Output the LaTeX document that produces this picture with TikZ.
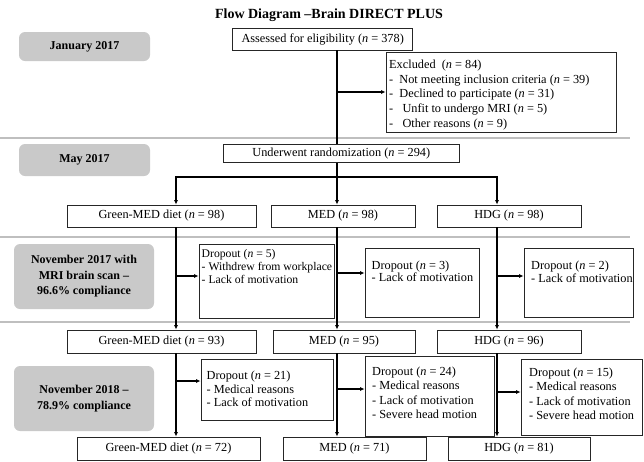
\documentclass[tikz,border=0pt]{standalone}
\usepackage{fontspec}
\setmainfont{Liberation Serif}
\usetikzlibrary{arrows.meta}
\begin{document}
\begin{tikzpicture}[x=1pt,y=-1pt,
  sep/.style={draw=gray!50, line width=2pt},
  gbox/.style={fill=gray!42, rounded corners=6pt, align=center, inner sep=0pt, font=\fontsize{12}{15.5}\selectfont\bfseries},
  wbox/.style={draw=black!85, line width=0.8pt, fill=white, inner sep=0pt, font=\fontsize{12.3}{14}\selectfont},
  dtext/.style={anchor=north west, inner sep=0pt, align=left},
  conn/.style={line width=1.3pt},
  arr/.style={conn, -{Latex[length=4.5pt,width=4pt]}},
]
\useasboundingbox (0,0) rectangle (644,461);

% separators
\draw[sep] (0,138) -- (630,138);
\draw[sep] (0,237) -- (630,237);
\draw[sep] (0,321.5) -- (630,321.5);

% title
\node[font=\fontsize{14}{16}\selectfont\bfseries] (title) at (329,15) {Flow Diagram –Brain DIRECT PLUS};

% left timeline labels
\node[gbox, minimum width=131pt, minimum height=29pt] (jan) at (84.5,46.5) {January 2017};
\node[gbox, minimum width=131pt, minimum height=32pt] (may) at (84.5,160) {May 2017};
\node[gbox, minimum width=140pt, minimum height=65pt] (nov17) at (84,276.5) {November 2017 with\\MRI brain scan –\\96.6\% compliance};
\node[gbox, minimum width=140pt, minimum height=65pt] (nov18) at (84,398.5) {November 2018 –\\78.9\% compliance};

% column x positions
\coordinate (lx1) at (176,0);
\coordinate (lx2) at (337,0);
\coordinate (lx3) at (497,0);
\coordinate (by) at (0,177);

% boxes
\node[wbox, minimum width=180pt, minimum height=21.7pt] (assess) at (322.7,39.2) {Assessed for eligibility (\textit{n} = 378)};
\node[wbox, minimum width=230pt, minimum height=80pt] (excl) at (501,92) {};
\node[dtext, font=\fontsize{12.3}{14.8}\selectfont] (exclt) at (389,59.5) {Excluded\ \ (\textit{n} = 84)\\-\ \ Not meeting inclusion criteria (\textit{n} = 39)\\-\ \ Declined to participate (\textit{n} = 31)\\-\ \ \ Unfit to undergo MRI (\textit{n} = 5)\\-\ \ \ Other reasons (\textit{n} = 9)};

\node[wbox, minimum width=236pt, minimum height=18.3pt] (under) at (341.3,153.2) {Underwent randomization (\textit{n} = 294)};

\node[wbox, minimum width=189pt, minimum height=22pt] (gm98) at (161.5,216) {Green-MED diet (\textit{n} = 98)};
\node[wbox, minimum width=144pt, minimum height=22pt] (med98) at (343,216) {MED (\textit{n} = 98)};
\node[wbox, minimum width=144pt, minimum height=22pt] (hdg98) at (509,216) {HDG (\textit{n} = 98)};

\node[wbox, minimum width=135pt, minimum height=74pt] (d5) at (266.5,281) {};
\node[dtext, font=\fontsize{11.7}{12.7}\selectfont] (d5t) at (201.5,249.5) {Dropout (\textit{n} = 5)\\- Withdrew from workplace\\- Lack of motivation};
\node[wbox, minimum width=114pt, minimum height=69pt] (d3) at (422,282.5) {};
\node[dtext, font=\fontsize{12.3}{12.5}\selectfont] (d3t) at (371.5,260.5) {Dropout (\textit{n} = 3)\\- Lack of motivation};
\node[wbox, minimum width=109pt, minimum height=69pt] (d2) at (578.5,282.5) {};
\node[dtext, font=\fontsize{12.3}{12.5}\selectfont] (d2t) at (531,261) {Dropout (\textit{n} = 2)\\- Lack of motivation};

\node[wbox, minimum width=189pt, minimum height=23pt] (gm93) at (161.5,341.5) {Green-MED diet (\textit{n} = 93)};
\node[wbox, minimum width=142pt, minimum height=23pt] (med95) at (344,341.5) {MED (\textit{n} = 95)};
\node[wbox, minimum width=144pt, minimum height=23pt] (hdg96) at (509,341.5) {HDG (\textit{n} = 96)};

\node[wbox, minimum width=132pt, minimum height=61pt] (d21) at (267,389.5) {};
\node[dtext, font=\fontsize{12.3}{13.8}\selectfont] (d21t) at (206.5,370.5) {Dropout (\textit{n} = 21)\\- Medical reasons\\- Lack of motivation};
\node[wbox, minimum width=129pt, minimum height=80pt] (d24) at (429.5,396) {};
\node[dtext, font=\fontsize{12.3}{14.4}\selectfont] (d24t) at (372,366.5) {Dropout (\textit{n} = 24)\\- Medical reasons\\- Lack of motivation\\- Severe head motion};
\node[wbox, minimum width=121pt, minimum height=76pt] (d15) at (581.5,397) {};
\node[dtext, font=\fontsize{12.3}{14.4}\selectfont] (d15t) at (529,367.5) {Dropout (\textit{n} = 15)\\- Medical reasons\\- Lack of motivation\\- Severe head motion};

\node[wbox, minimum width=183pt, minimum height=23pt] (gm72) at (168.5,448.5) {Green-MED diet (\textit{n} = 72)};
\node[wbox, minimum width=143pt, minimum height=23pt] (med71) at (354.5,448.5) {MED (\textit{n} = 71)};
\node[wbox, minimum width=142pt, minimum height=23pt] (hdg81) at (519,448.5) {HDG (\textit{n} = 81)};

% connectors
\draw[conn] (assess.south -| lx2) -- (under.north -| lx2);
\draw[arr] (lx2 |- excl.west) -- (excl.west);
\draw[arr] (under.south -| lx2) -- (med98.north -| lx2);
\draw[arr] (under.south -| lx2) -- (lx2 |- by) -| (gm98.north -| lx1);
\draw[arr] (lx2 |- by) -| (hdg98.north -| lx3);

\draw[arr] (gm98.south -| lx1) -- (gm93.north -| lx1);
\draw[arr] (med98.south -| lx2) -- (med95.north -| lx2);
\draw[arr] (hdg98.south -| lx3) -- (hdg96.north -| lx3);
\draw[arr] ([yshift=5pt]d5.west -| lx1) -- ([yshift=5pt]d5.west);
\draw[arr] ([yshift=9.5pt]d3.west -| lx2) -- ([yshift=9.5pt]d3.west);
\draw[arr] ([yshift=6.5pt]d2.west -| lx3) -- ([yshift=6.5pt]d2.west);

\draw[arr] (gm93.south -| lx1) -- (gm72.north -| lx1);
\draw[arr] (med95.south -| lx2) -- (med71.north -| lx2);
\draw[arr] (hdg96.south -| lx3) -- (hdg81.north -| lx3);
\draw[arr] ([yshift=8.5pt]d21.west -| lx1) -- ([yshift=8.5pt]d21.west);
\draw[arr] ([yshift=7pt]d24.west -| lx2) -- ([yshift=7pt]d24.west);
\draw[arr] ([yshift=5pt]d15.west -| lx3) -- ([yshift=5pt]d15.west);
\end{tikzpicture}
\end{document}
